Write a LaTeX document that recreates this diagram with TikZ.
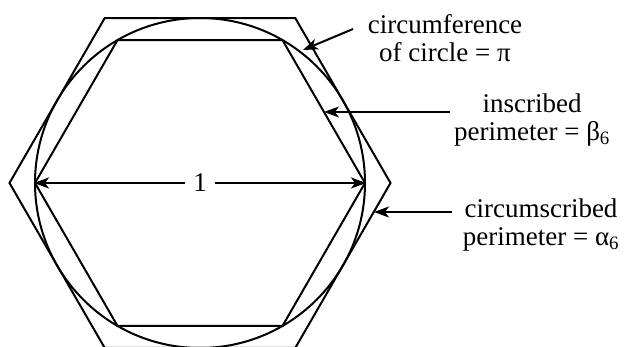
\documentclass[tikz,border=0pt]{standalone}
\usepackage{fontspec}
\setmainfont{Liberation Serif}
\usetikzlibrary{arrows.meta,positioning,calc}
\tikzset{
  lbl/.style={align=center, inner sep=0pt, font=\fontsize{27}{28}\selectfont},
  ptr/.style={line width=2pt, -{Stealth[length=15pt,width=11pt,inset=4pt]}},
  hexline/.style={line width=2pt, line join=miter}
}

\begin{document}
\begin{tikzpicture}[x=1pt, y=-1pt]
  \useasboundingbox (0,0) rectangle (627,347);
  \coordinate (ctr) at (200,183);
  % circle and the two hexagons
  \draw[hexline] (ctr) circle[radius=165pt];
  \draw[hexline] ($(ctr)+(0:165)$) \foreach \a in {60,120,...,300} { -- ($(ctr)+(\a:165)$) } -- cycle;
  \draw[hexline] ($(ctr)+(0:190.5)$) \foreach \a in {60,120,...,300} { -- ($(ctr)+(\a:190.5)$) } -- cycle;
  \coordinate (inleft) at ($(ctr)+(180:166)$);
  \coordinate (inright) at ($(ctr)+(0:166)$);
  % diameter
  \draw[ptr, {Stealth[length=15pt,width=11pt,inset=4pt]}-{Stealth[length=15pt,width=11pt,inset=4pt]}]
    (inleft) -- node[fill=white, inner xsep=8pt, inner ysep=2pt, font=\fontsize{27}{28}\selectfont] (one) {1} (inright);
  % labels
  \node[lbl] (circlbl) at (445,38) {circumference\\of circle = π};
  \node[lbl] (insclbl) at (532,120) {inscribed\\perimeter = β\textsubscript{6}};
  \node[lbl] (circumlbl) at (541,225) {circumscribed\\perimeter = α\textsubscript{6}};
  \coordinate (circtail) at (353,29);
  \coordinate (circtip) at (303,50);
  \coordinate (insctail) at (450,112);
  \coordinate (insctip) at (324,112);
  \coordinate (circumtail) at (452,212);
  \coordinate (circumtip) at (374,212);
  \draw[ptr] (circtail) -- (circtip);
  \draw[ptr] (insctail) -- (insctip);
  \draw[ptr] (circumtail) -- (circumtip);
\end{tikzpicture}
\end{document}
